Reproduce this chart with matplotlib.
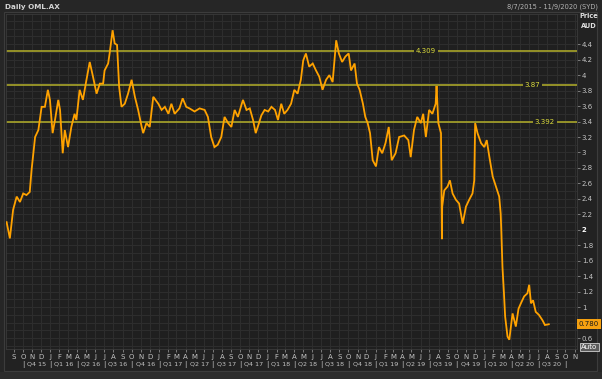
import matplotlib
matplotlib.use("Agg")
import matplotlib.pyplot as plt
import matplotlib.dates as mdates
import matplotlib.transforms as mtrans
import pandas as pd

# ---------------- data ----------------
dates = [
    "2015-08-07", "2015-08-18", "2015-08-29", "2015-09-10", "2015-09-21", "2015-10-02",
    "2015-10-13", "2015-10-24", "2015-10-30", "2015-11-05", "2015-11-11", "2015-11-22",
    "2015-12-03", "2015-12-14", "2015-12-24", "2015-12-31", "2016-01-09", "2016-01-17",
    "2016-01-28", "2016-02-03", "2016-02-12", "2016-02-19", "2016-03-01", "2016-03-12",
    "2016-03-23", "2016-03-29", "2016-04-09", "2016-04-20", "2016-05-02", "2016-05-13",
    "2016-05-24", "2016-06-05", "2016-06-16", "2016-06-27", "2016-07-02", "2016-07-14",
    "2016-07-19", "2016-07-29", "2016-08-05", "2016-08-13", "2016-08-20", "2016-08-28",
    "2016-09-08", "2016-09-19", "2016-10-01", "2016-10-12", "2016-10-23", "2016-11-04",
    "2016-11-09", "2016-11-20", "2016-12-01", "2016-12-13", "2016-12-30", "2017-01-10",
    "2017-01-21", "2017-02-02", "2017-02-12", "2017-02-23", "2017-03-11", "2017-03-22",
    "2017-04-03", "2017-04-14", "2017-05-01", "2017-05-18", "2017-06-04", "2017-06-15",
    "2017-06-26", "2017-07-07", "2017-07-18", "2017-07-30", "2017-08-10", "2017-08-22",
    "2017-09-02", "2017-09-13", "2017-09-24", "2017-10-11", "2017-10-23", "2017-11-03",
    "2017-11-14", "2017-11-23", "2017-12-04", "2017-12-12", "2017-12-23", "2018-01-04",
    "2018-01-15", "2018-01-27", "2018-02-06", "2018-02-17", "2018-02-27", "2018-03-10",
    "2018-03-22", "2018-04-02", "2018-04-13", "2018-04-24", "2018-05-02", "2018-05-11",
    "2018-05-22", "2018-06-03", "2018-06-14", "2018-06-25", "2018-07-06", "2018-07-18",
    "2018-07-29", "2018-08-09", "2018-08-21", "2018-08-30", "2018-09-10", "2018-09-21",
    "2018-10-02", "2018-10-10", "2018-10-22", "2018-10-30", "2018-11-08", "2018-11-19",
    "2018-11-27", "2018-12-05", "2018-12-13", "2018-12-22", "2019-01-02", "2019-01-12",
    "2019-01-23", "2019-02-03", "2019-02-14", "2019-02-24", "2019-03-09", "2019-03-21",
    "2019-04-07", "2019-04-21", "2019-04-29", "2019-05-10", "2019-05-21", "2019-06-02",
    "2019-06-10", "2019-06-19", "2019-06-30", "2019-07-11", "2019-07-22", "2019-07-25",
    "2019-07-31", "2019-08-09", "2019-08-12", "2019-08-13", "2019-08-20", "2019-08-31",
    "2019-09-08", "2019-09-17", "2019-09-28", "2019-10-09", "2019-10-21", "2019-11-01",
    "2019-11-12", "2019-11-23", "2019-11-29", "2019-12-02", "2019-12-10", "2019-12-22",
    "2020-01-02", "2020-01-10", "2020-01-19", "2020-01-30", "2020-02-10", "2020-02-21",
    "2020-02-26", "2020-02-28", "2020-03-03", "2020-03-08", "2020-03-12", "2020-03-20",
    "2020-03-26", "2020-04-06", "2020-04-17", "2020-04-26", "2020-05-04", "2020-05-15",
    "2020-05-26", "2020-06-01", "2020-06-07", "2020-06-14", "2020-06-23", "2020-07-04",
    "2020-07-16", "2020-07-24", "2020-08-06",
]
close = [
    2.10, 1.89, 2.26, 2.43, 2.36, 2.47,
    2.45, 2.49, 2.77, 2.99, 3.20, 3.29,
    3.59, 3.59, 3.81, 3.68, 3.25, 3.42,
    3.68, 3.55, 2.99, 3.29, 3.07, 3.33,
    3.50, 3.42, 3.81, 3.68, 3.94, 4.17,
    3.98, 3.76, 3.89, 3.89, 4.06, 4.15,
    4.28, 4.58, 4.41, 4.39, 3.85, 3.59,
    3.63, 3.76, 3.94, 3.72, 3.55, 3.33,
    3.25, 3.38, 3.33, 3.72, 3.63, 3.55,
    3.59, 3.50, 3.63, 3.50, 3.57, 3.70,
    3.59, 3.57, 3.53, 3.57, 3.55, 3.46,
    3.20, 3.07, 3.10, 3.20, 3.46, 3.38,
    3.33, 3.55, 3.46, 3.68, 3.55, 3.57,
    3.42, 3.25, 3.38, 3.48, 3.55, 3.53,
    3.59, 3.55, 3.42, 3.63, 3.50, 3.55,
    3.63, 3.81, 3.76, 3.94, 4.19, 4.28,
    4.11, 4.15, 4.06, 3.98, 3.81, 3.94,
    4.00, 3.91, 4.45, 4.28, 4.17, 4.24,
    4.28, 4.06, 4.15, 3.89, 3.81, 3.63,
    3.46, 3.38, 3.25, 2.90, 2.82, 3.07,
    2.99, 3.12, 3.33, 2.90, 2.99, 3.20,
    3.22, 3.16, 2.94, 3.29, 3.46, 3.38,
    3.50, 3.20, 3.55, 3.50, 3.63, 3.86,
    3.38, 3.25, 1.88, 2.30, 2.51, 2.56,
    2.64, 2.47, 2.39, 2.34, 2.08, 2.30,
    2.39, 2.47, 2.64, 3.38, 3.25, 3.12,
    3.07, 3.16, 2.94, 2.69, 2.56, 2.43,
    2.21, 2.00, 1.52, 1.18, 0.88, 0.62,
    0.58, 0.92, 0.75, 0.98, 1.05, 1.14,
    1.18, 1.29, 1.05, 1.09, 0.94, 0.90,
    0.83, 0.77, 0.78,
]
levels = [4.309, 3.87, 3.392]
level_labels = ["4.309", "3.87", "3.392"]
level_label_dates = ["2019-06-19", "2020-06-11", "2020-07-24"]
y_ticks = [0.6, 0.8, 1.0, 1.2, 1.4, 1.6, 1.8, 2.0, 2.2, 2.4, 2.6, 2.8,
           3.0, 3.2, 3.4, 3.6, 3.8, 4.0, 4.2, 4.4]
header_title = "Daily OML.AX"
header_range = "8/7/2015 - 11/9/2020 (SYD)"
legend_text = "BarOHLC, OML.AX, Trade Price, 8/6/2020, 0.745, 0.790, 0.735, 0.780"
last_label = "0.780"
last_value = 0.78

# ---------------- styling ----------------
W, H = 602, 379
FIG_BG = "#262626"
PLOT_BG = "#1f1f1f"
GRID = "#2e2e2e"
TXT = "#c4c4c4"
ORANGE = "#FFA200"
LEVEL = "#b4b02a"
LEVEL_TXT = "#dcdc3c"
FONT = "DejaVu Sans"

plt.rcParams["font.family"] = [FONT]

fig = plt.figure(figsize=(W / 100, H / 100), dpi=100, facecolor=FIG_BG)

def fx(px):
    return px / W

def fy(py):
    return 1 - py / H

# panel background / frame
panel = plt.Rectangle((fx(4), fy(371)), fx(597) - fx(4), fy(12) - fy(371),
                      transform=fig.transFigure, facecolor="#222222",
                      edgecolor="#3c3c3c", lw=0.8, zorder=-5)
fig.patches.append(panel)
strip = plt.Rectangle((0, 0), 1, fy(372), transform=fig.transFigure,
                      facecolor="#2c2c2c", edgecolor="none", zorder=-5)
fig.patches.append(strip)

left, right, top, bottom = 6, 577, 14, 349
ax = fig.add_axes([fx(left), fy(bottom), fx(right) - fx(left), fy(top) - fy(bottom)])
ax.set_zorder(5)
ax.set_facecolor(PLOT_BG)
for s in ax.spines.values():
    s.set_color("#3a3a3a")
    s.set_linewidth(0.6)

d = pd.to_datetime(dates)
ax.plot(d, close, color=ORANGE, lw=1.3, solid_joinstyle="miter", zorder=3)

x0 = pd.Timestamp("2015-08-05")
x1 = pd.Timestamp("2020-11-09")
ax.set_xlim(x0, x1)
ax.set_ylim(0.46, 4.79)

# grid
months = pd.date_range("2015-09-01", "2020-11-01", freq="MS")
for m in months:
    ax.axvline(m, color=GRID, lw=0.7, zorder=1)
for k in range(5, 48):
    ax.axhline(k / 10, color=GRID, lw=0.7, zorder=1)

# level lines
for lv, lab, ld in zip(levels, level_labels, level_label_dates):
    ax.axhline(lv, color=LEVEL, lw=1.1, zorder=2)
    ax.text(pd.Timestamp(ld), lv, lab, ha="center", va="center", fontsize=5,
            color=LEVEL_TXT, zorder=4,
            bbox=dict(facecolor=PLOT_BG, edgecolor="none", pad=1.2))

# x axis: month letters
ax.set_xticks(months)
ax.set_xticklabels([m.strftime("%b")[0] for m in months])
ax.tick_params(axis="x", length=2, width=0.6, color="#8a8a8a", pad=1.5,
               labelsize=5, labelcolor=TXT)

# quarter labels
trans = mtrans.blended_transform_factory(ax.transData, ax.transAxes)
qstarts = pd.date_range("2015-10-01", "2020-10-01", freq="QS")
qy = -(364 - bottom) / (bottom - top)
for q in qstarts:
    ax.text(q, qy, "|", ha="center", va="center", fontsize=5, color=TXT,
            transform=trans, clip_on=False)
for a, b in zip(qstarts[:-1], qstarts[1:]):
    mid = a + (b - a) / 2
    lab = "Q%d %s" % ((a.month - 1) // 3 + 1, a.strftime("%y"))
    ax.text(mid, qy, lab, ha="center", va="center", fontsize=4.6, color=TXT,
            transform=trans, clip_on=False)

# y axis on the right
ax.yaxis.tick_right()
ax.set_yticks(y_ticks)
ax.set_yticklabels(["%g" % v for v in y_ticks])
ax.tick_params(axis="y", length=2.5, width=0.6, color="#8a8a8a", pad=1,
               labelsize=5, labelcolor=TXT)
for lab in ax.get_yticklabels():
    if lab.get_text() == "2":
        lab.set_fontweight("bold")
        lab.set_color("#ffffff")
    if lab.get_text() == "0.8":
        lab.set_visible(False)

# last price tag
ytr = mtrans.blended_transform_factory(ax.transAxes, ax.transData)
ax.text(1.003, last_value, last_label, ha="left", va="center", fontsize=5,
        color="#1a1a1a", transform=ytr, clip_on=False, zorder=6,
        bbox=dict(facecolor="#f5a010", edgecolor="none", pad=1.3))

# Auto button
fig.text(fx(589.5), fy(347), "Auto", ha="center", va="center", fontsize=5,
         color="#ffffff",
         bbox=dict(facecolor="#5c5c5c", edgecolor="#d0d0d0", lw=0.6, pad=0.8))

# headers
fig.text(fx(5), fy(6.5), header_title, ha="left", va="center", fontsize=5.2,
         color="#d4d4d4", fontweight="bold")
fig.text(fx(598), fy(6.5), header_range, ha="right", va="center", fontsize=4.8,
         color="#b4b4b4")
fig.text(fx(598), fy(16.5), "Price", ha="right", va="center", fontsize=4.8,
         color="#e0e0e0", fontweight="bold")
fig.text(fx(597), fy(25.5), "AUD", ha="right", va="center", fontsize=4.8,
         color="#e0e0e0", fontweight="bold")

# legend line
fig.text(fx(13), fy(16.5), "\u25cf", ha="center", va="center", fontsize=5,
         color="#9ab0c8")
fig.text(fx(17), fy(16.5), legend_text, ha="left", va="center", fontsize=4.6,
         color="#e09020")

fig.savefig("out.png", dpi=100, facecolor=FIG_BG)
